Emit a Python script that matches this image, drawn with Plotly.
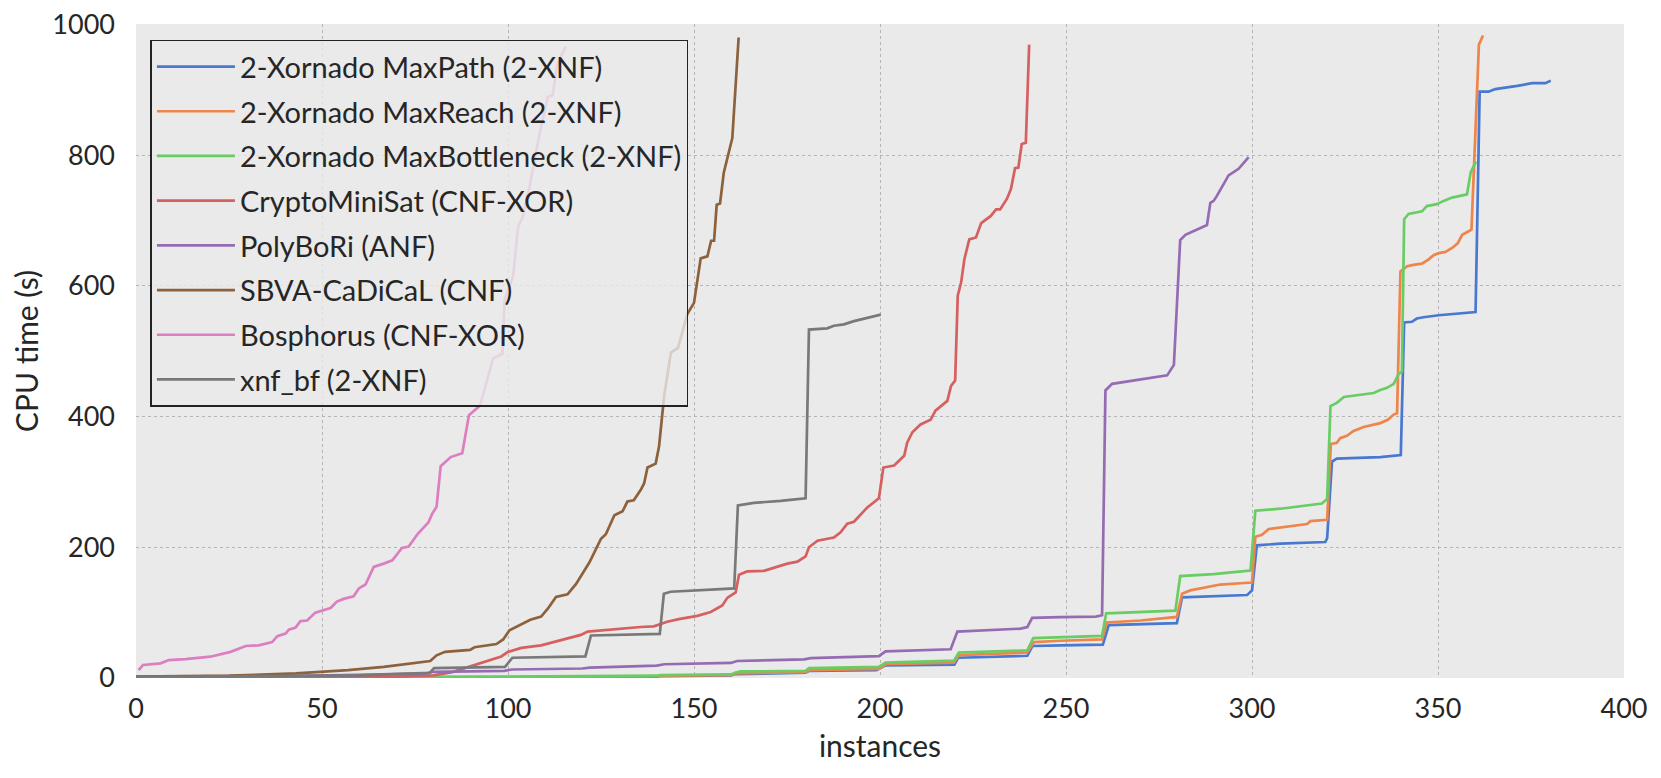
import plotly.graph_objects as go

names = [
    "2-Xornado MaxPath (2-XNF)",
    "2-Xornado MaxReach (2-XNF)",
    "2-Xornado MaxBottleneck (2-XNF)",
    "CryptoMiniSat (CNF-XOR)",
    "PolyBoRi (ANF)",
    "SBVA-CaDiCaL (CNF)",
    "Bosphorus (CNF-XOR)",
    "xnf_bf (2-XNF)",
]
colors = ["#4878D0", "#EE854A", "#6ACC64", "#D65F5F", "#956CB4", "#8C613C", "#DC7EC0", "#797979"]

maxpath_x = [0, 60, 100, 140, 141, 160, 161, 180, 181, 199, 201.5, 220, 221, 239.6, 241, 248.6, 259.9, 261.5, 279.8, 281.2, 298.7, 300, 301.3, 307.6, 319.7, 320.2, 321.5, 322.8, 334.5, 340, 340.9, 343, 344.3, 346.1, 350.2, 360.1, 361.2, 363.6, 365.4, 371.3, 375.3, 378.9, 380.3]
maxpath_y = [0.3, 0.5, 1, 2, 3, 4, 6, 8, 11, 12, 19.3, 20.4, 31, 34, 49, 50, 51, 81, 84, 123.5, 127, 134, 203, 205.5, 208, 214, 331, 335.5, 338, 341, 544, 545, 550, 552, 555, 560, 897, 897, 901, 906, 910, 910, 914]

maxreach_x = [0, 60, 100, 140, 141, 160, 161, 180, 181, 199.7, 201.5, 219.9, 221.2, 239.6, 241.4, 248.6, 259.7, 261, 270, 279.8, 281.2, 283.4, 287.9, 291.5, 296.9, 300, 300.9, 302.7, 304.5, 310.8, 314.8, 315.7, 320.2, 321.2, 322.8, 323.7, 325.5, 327.3, 330, 334.5, 336.5, 338.1, 339, 339.9, 341.7, 343.4, 345.7, 347.5, 348.8, 350.2, 352, 353.8, 355.3, 356.5, 357.6, 359, 361, 362.1]
maxreach_y = [0.5, 0.8, 1.5, 2.5, 3.5, 4.5, 7, 9, 12, 14, 21, 23.4, 35, 39, 55, 57, 59, 85, 88, 93.4, 129, 134, 139, 143, 145, 146, 216, 219, 228, 232, 235.5, 240, 242, 358, 360, 367, 370.5, 378, 384, 390, 395, 403, 405, 622, 630, 632, 634, 640.5, 647, 650, 652, 658, 665, 678, 682, 686, 969, 983]

maxbottle_x = [0, 60, 100, 140, 141, 160, 161, 162.5, 180, 180.9, 199.7, 201.5, 219.9, 221.2, 239.6, 241.2, 248.6, 259.7, 260.8, 279.4, 280.7, 289.7, 295.1, 299.6, 300.9, 307.6, 318.8, 320.2, 321.1, 322.8, 324.7, 328.2, 332.7, 334.5, 336.3, 338.1, 339.4, 340.3, 340.9, 342.1, 345.7, 347, 349.7, 351.5, 353.8, 357.8, 358.8, 360.2]
maxbottle_y = [0.8, 1.2, 2, 3.5, 4.5, 5.5, 8, 10, 11, 15, 17, 23.4, 26.5, 39, 42.2, 61, 62, 64.5, 99, 103, 156, 159, 162, 164.5, 256, 259, 267, 274, 416, 421, 430, 433, 436, 440.5, 444, 450, 465, 469, 702, 710, 714, 722, 725, 730, 735, 740, 774, 790]

cms_x = [0, 40, 60, 70, 80, 85, 89.4, 93.5, 98.2, 100, 103.6, 108.9, 114.3, 119.6, 121.4, 126.8, 135.7, 139.2, 142.8, 145.9, 150.9, 154.5, 157.6, 159, 161.2, 162.1, 164.3, 168.8, 171.5, 175.1, 177.8, 180, 180.9, 183.2, 187.6, 189.4, 191.2, 193, 196.6, 198.4, 199.7, 200.9, 203.8, 206.5, 207.3, 208.7, 210.9, 213.6, 214.9, 218.1, 219.1, 220.2, 220.9, 221.8, 222.7, 224, 225.8, 227.2, 229.8, 231.2, 232.3, 234.1, 235.2, 236.3, 237.2, 238.1, 239.2, 240.1]
cms_y = [0.2, 0.4, 1, 2, 4, 9, 17, 25, 33, 40, 46, 50, 58, 66, 71, 74, 78, 79, 86, 90, 95, 101, 111, 123, 131, 158, 163, 164, 169, 175, 178, 186, 200, 210, 215, 223, 236, 239, 261, 269, 275, 322, 325, 340, 360, 376, 388, 395, 409, 424, 447, 455, 585, 605, 641, 671, 674, 696, 707, 717, 717, 733, 748, 780, 781, 817, 819, 969]

polybori_x = [0, 20, 40, 60, 78, 80, 99, 101, 120, 122, 135.7, 140, 142, 159.9, 161.6, 179.6, 181.4, 192.1, 199.7, 201.5, 219, 220.8, 237.8, 239.6, 240.9, 248.6, 253.8, 258, 259.7, 260.6, 262.4, 269, 273.6, 277.2, 279, 279.8, 280.7, 282.1, 287.9, 288.8, 289.7, 290.6, 293.7, 296.4, 299.1]
polybori_y = [2, 2.5, 3, 5, 7, 9.5, 11, 13, 14.5, 16, 18, 19, 21, 23, 26, 28.5, 30.5, 32, 33.5, 40.7, 44, 71, 75.5, 78, 92, 93, 93, 94, 96, 440, 450, 456, 460, 463, 479, 577, 670, 678, 693, 727, 730, 738, 769, 779, 797]

sbva_x = [0, 25, 43, 57, 66.6, 72.9, 79.1, 80.8, 83.1, 89.8, 91, 96.9, 98.7, 100.4, 102.7, 106, 108.9, 110.7, 112.9, 116, 118.3, 121.9, 125, 126.3, 128.6, 130.8, 132.1, 133.8, 135.7, 136.6, 137.5, 139.7, 140.6, 141.5, 142, 143.8, 145.7, 148.2, 150, 151.8, 153.6, 154.6, 155.4, 156.1, 157, 158, 160.3, 162]
sbva_y = [2, 3.6, 7, 12, 17, 21, 26, 34.7, 40, 43, 47, 52, 59, 73, 80, 89, 94, 106, 124, 128, 144, 177, 213, 220, 249, 255, 270, 272, 288, 298, 322, 328, 354, 403, 433, 498, 505, 557, 574, 642, 645, 669, 669, 724, 726, 773, 826, 980]

bosph_x = [0.7, 1.9, 6.6, 8.8, 13.3, 20, 25.4, 29.5, 33, 36.6, 38, 40.2, 41.1, 42.9, 44.2, 46, 48.2, 50, 52.3, 54, 55.8, 58.5, 59.9, 61.7, 63.9, 66.6, 68.9, 71.5, 73.3, 75.8, 78.6, 79.6, 80.8, 81.9, 84.6, 87.7, 89.5, 92.5, 94.7, 96, 98.5, 99.1, 101.4, 102.7, 104, 105.8, 108.5, 110.7, 112, 113.3, 115.5]
bosph_y = [12, 20, 22.4, 27.5, 29, 32.6, 40, 49, 50, 55, 64, 68, 74, 77, 87, 88, 100, 103, 107, 117, 121, 125, 137, 143, 170, 175, 180, 199, 201, 221, 238, 251, 262, 324, 338, 344, 402, 417, 461, 489, 496, 578, 616, 690, 706, 752, 833, 889, 892, 940, 966]

xnfbf_x = [0, 40, 60, 79, 80.1, 99.2, 101.2, 120.8, 122.3, 140.8, 141.9, 143.7, 156.3, 160.8, 161.8, 166.1, 173.3, 178.7, 180, 180.9, 185.8, 187.6, 190.3, 193, 196.6, 200.2]
xnfbf_y = [1.5, 2.5, 4, 7.7, 15, 17, 31, 33, 65, 67.5, 129, 132, 135, 137, 264, 268, 271, 274, 275, 533, 535, 539, 541, 546, 551, 556]

xs = [maxpath_x, maxreach_x, maxbottle_x, cms_x, polybori_x, sbva_x, bosph_x, xnfbf_x]
ys = [maxpath_y, maxreach_y, maxbottle_y, cms_y, polybori_y, sbva_y, bosph_y, xnfbf_y]

x_ticks = [0, 50, 100, 150, 200, 250, 300, 350, 400]
y_ticks = [0, 200, 400, 600, 800, 1000]

FONT = "Lato"
TXT = "#262626"

fig = go.Figure()
for i, (n, c, x, y) in enumerate(zip(names, colors, xs, ys)):
    fig.add_trace(go.Scatter(x=x, y=y, mode="lines", name=n, legendgroup=str(i),
                             line=dict(color=c, width=2.7)))

# page body has an 8px margin, so the figure is made 8px smaller and margins shifted
fig.update_layout(
    width=1653, height=770,
    margin=dict(l=128, r=37, t=16, b=100, autoexpand=False),
    paper_bgcolor="white", plot_bgcolor="#EAEAEA",
    font=dict(family=FONT, size=27, color=TXT),
    legend=dict(x=0.0097, y=0.976, xanchor="left", yanchor="top",
                bgcolor="rgba(234,234,234,0.8)", bordercolor="#222222", borderwidth=1.5,
                font=dict(family=FONT, size=29, color=TXT),
                traceorder="grouped", tracegroupgap=4, itemwidth=78),
    showlegend=True,
)
fig.update_xaxes(range=[0, 400], tickvals=x_ticks, ticktext=[str(v) for v in x_ticks],
                 automargin=False,
                 showgrid=True, gridcolor="#B4B4B4", griddash="dot", gridwidth=1.3,
                 zeroline=False, showline=False, ticks="", ticklabelstandoff=12,
                 tickfont=dict(size=27),
                 title=dict(text="instances", standoff=12, font=dict(size=30)))
fig.update_yaxes(range=[0, 1000.6], tickvals=y_ticks, ticktext=[str(v) for v in y_ticks],
                 automargin=False, ticklabeloverflow="allow",
                 showgrid=True, gridcolor="#B4B4B4", griddash="dot", gridwidth=1.3,
                 zeroline=False, showline=False, ticks="", ticklabelstandoff=20,
                 tickfont=dict(size=27),
                 title=dict(text="CPU time (s)", standoff=18, font=dict(size=30)))

fig.write_html("out.html")
